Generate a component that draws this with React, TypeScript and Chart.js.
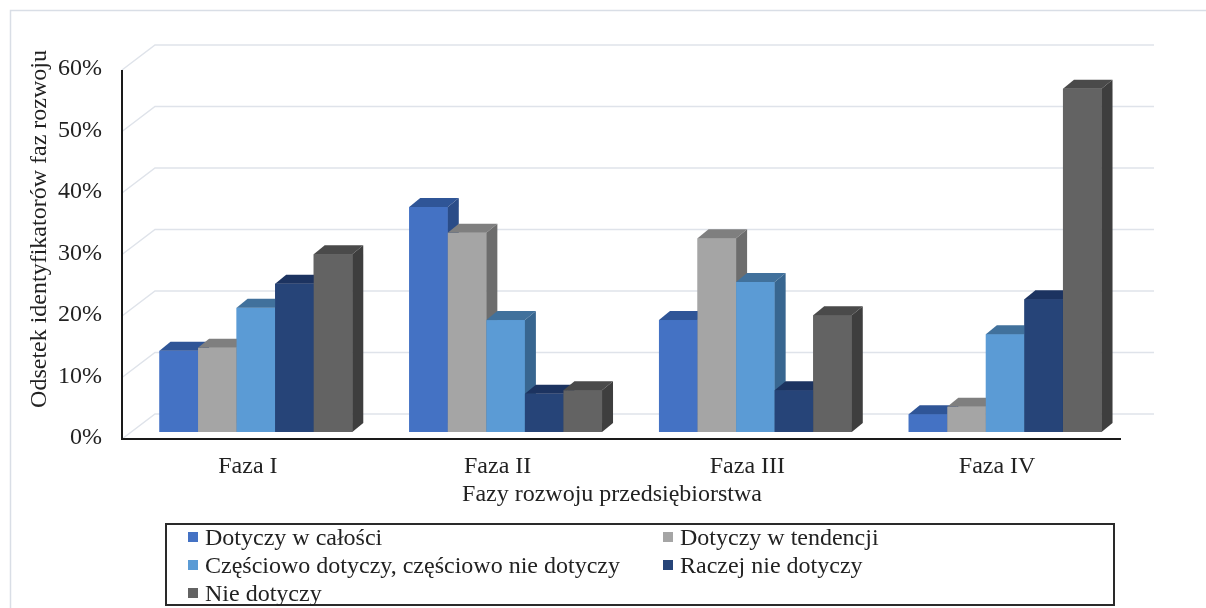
import React, { useEffect, useRef } from "react";
import { Chart, registerables } from "chart.js";

Chart.register(...registerables);

// ---- data ----
const categories = ["Faza I", "Faza II", "Faza III", "Faza IV"];
const seriesNames = [
  "Dotyczy w całości",
  "Dotyczy w tendencji",
  "Częściowo dotyczy, częściowo nie dotyczy",
  "Raczej nie dotyczy",
  "Nie dotyczy",
];
const dotyczyWCalosci = [0.132, 0.366, 0.182, 0.029];
const dotyczyWTendencji = [0.137, 0.324, 0.315, 0.041];
const czesciowoDotyczy = [0.202, 0.182, 0.244, 0.159];
const raczejNieDotyczy = [0.241, 0.062, 0.068, 0.216];
const nieDotyczy = [0.289, 0.068, 0.19, 0.558];
const yTickValues = [0, 0.1, 0.2, 0.3, 0.4, 0.5, 0.6];
const xTitle = "Fazy rozwoju przedsiębiorstwa";
const yTitle = "Odsetek identyfikatorów faz rozwoju";

// ---- styles ----
const frontColors = ["#4472C4", "#A5A5A5", "#5B9BD5", "#264478", "#636363"];
const topColors = ["#2F5597", "#7F7F7F", "#41719C", "#1C3360", "#4A4A4A"];
const sideColors = ["#2A4C88", "#6D6D6D", "#386690", "#18305A", "#3E3E3E"];
const FONT = '"Liberation Serif", "Times New Roman", serif';
const FONT_SIZE = 24;
const TEXT = "#222222";
const FRONT = { x: -9, y: 7 };
const BACK = { x: 24, y: -18 };
const DEPTH = { x: 11, y: -9 };

const seriesValues = [dotyczyWCalosci, dotyczyWTendencji, czesciowoDotyczy, raczejNieDotyczy, nieDotyczy];

const threeD = {
  id: "threeD",
  beforeDatasetsDraw(chart: any) {
    const { ctx, chartArea } = chart;
    const y = chart.scales.y;
    ctx.save();
    ctx.strokeStyle = "#dfe3ea";
    ctx.lineWidth = 1.5;
    for (const v of yTickValues) {
      const py = y.getPixelForValue(v);
      ctx.beginPath();
      ctx.moveTo(chartArea.left + FRONT.x, py + FRONT.y);
      ctx.lineTo(chartArea.left + BACK.x, py + BACK.y);
      ctx.lineTo(chartArea.right + BACK.x, py + BACK.y);
      ctx.stroke();
    }
    ctx.restore();
  },
  afterDatasetsDraw(chart: any) {
    const { ctx, chartArea } = chart;
    const y = chart.scales.y;
    const items: any[] = [];
    chart.data.datasets.forEach((_ds: any, di: number) => {
      const meta = chart.getDatasetMeta(di);
      meta.data.forEach((el: any) => {
        const p = el.getProps(["x", "y", "base", "width"], true);
        items.push({ di, ...p });
      });
    });
    items.sort((a, b) => a.x - b.x);
    ctx.save();
    for (const it of items) {
      const l = it.x - it.width / 2;
      const r = it.x + it.width / 2;
      const t = it.y;
      const b = it.base;
      ctx.fillStyle = frontColors[it.di];
      ctx.fillRect(l, t, r - l, b - t);
      ctx.fillStyle = topColors[it.di];
      ctx.beginPath();
      ctx.moveTo(l, t);
      ctx.lineTo(r, t);
      ctx.lineTo(r + DEPTH.x, t + DEPTH.y);
      ctx.lineTo(l + DEPTH.x, t + DEPTH.y);
      ctx.closePath();
      ctx.fill();
      ctx.fillStyle = sideColors[it.di];
      ctx.beginPath();
      ctx.moveTo(r, t);
      ctx.lineTo(r + DEPTH.x, t + DEPTH.y);
      ctx.lineTo(r + DEPTH.x, b + DEPTH.y);
      ctx.lineTo(r, b);
      ctx.closePath();
      ctx.fill();
    }
    // front axes
    const y0 = y.getPixelForValue(0) + FRONT.y;
    const yTop = y.getPixelForValue(0.6) + FRONT.y;
    const xl = chartArea.left + FRONT.x;
    const xr = chartArea.right + FRONT.x;
    ctx.strokeStyle = "#1a1a1a";
    ctx.lineWidth = 2;
    ctx.beginPath();
    ctx.moveTo(xl, yTop);
    ctx.lineTo(xl, y0);
    ctx.lineTo(xr, y0);
    ctx.stroke();
    ctx.restore();
  },
  afterDraw(chart: any) {
    const { ctx } = chart;
    ctx.save();
    ctx.strokeStyle = "#d9dee6";
    ctx.lineWidth = 1.5;
    ctx.beginPath();
    ctx.moveTo(10.5, 620);
    ctx.lineTo(10.5, 10.5);
    ctx.lineTo(1220, 10.5);
    ctx.stroke();
    ctx.fillStyle = TEXT;
    ctx.font = `${FONT_SIZE}px ${FONT}`;
    ctx.textAlign = "center";
    ctx.textBaseline = "middle";
    ctx.fillText(xTitle, 612, 495);
    ctx.translate(40, 229);
    ctx.rotate(-Math.PI / 2);
    ctx.fillText(yTitle, 0, 0);
    ctx.restore();
  },
};

export default function App() {
  const ref = useRef<HTMLCanvasElement | null>(null);
  useEffect(() => {
    if (!ref.current) return;
    const chart = new Chart(ref.current, {
      type: "bar",
      data: {
        labels: categories,
        datasets: seriesNames.map((name, i) => ({
          label: name,
          data: seriesValues[i],
          backgroundColor: frontColors[i],
          borderWidth: 0,
          categoryPercentage: 0.772,
          barPercentage: 1.0,
        })),
      },
      options: {
        animation: false,
        responsive: false,
        devicePixelRatio: 1,
        layout: { padding: { left: 0, top: 63, right: 76, bottom: 0 } },
        plugins: { legend: { display: false }, tooltip: { enabled: false }, title: { display: false } },
        scales: {
          x: {
            grid: { display: false, drawTicks: false },
            border: { display: false },
            ticks: {
              font: { family: FONT, size: FONT_SIZE },
              color: TEXT,
              padding: 20,
              labelOffset: -8,
              autoSkip: false,
              maxRotation: 0,
            },
            afterFit: (s: any) => {
              s.height = 176;
            },
          },
          y: {
            min: 0,
            max: 0.6,
            grid: { display: false, drawTicks: false },
            border: { display: false },
            ticks: {
              stepSize: 0.1,
              font: { family: FONT, size: FONT_SIZE },
              color: TEXT,
              padding: 29,
              labelOffset: 6,
              callback: (v: any) => Math.round(Number(v) * 100) + "%",
            },
            afterFit: (s: any) => {
              s.width = 131;
            },
          },
        },
      },
      plugins: [threeD],
    });
    return () => chart.destroy();
  }, []);

  const legendPos = [
    { col: 0, row: 0 },
    { col: 1, row: 0 },
    { col: 0, row: 1 },
    { col: 1, row: 1 },
    { col: 0, row: 2 },
  ];

  return (
    <div style={{ position: "absolute", left: 0, top: 0, width: 1206, height: 608, background: "#fff", overflow: "hidden" }}>
      <canvas ref={ref} width={1206} height={608} style={{ position: "absolute", left: 0, top: 0, width: 1206, height: 608 }} />
      <div
        style={{
          position: "absolute",
          left: 165,
          top: 523,
          width: 950,
          height: 83,
          boxSizing: "border-box",
          border: "2px solid #2a2a2a",
        }}
      >
        {seriesNames.map((name, i) => (
          <div
            key={name}
            style={{
              position: "absolute",
              left: legendPos[i].col === 0 ? 21 : 496,
              top: legendPos[i].row * 28 - 2,
              height: 28,
              display: "flex",
              alignItems: "center",
              whiteSpace: "nowrap",
              fontFamily: FONT,
              fontSize: FONT_SIZE,
              color: TEXT,
            }}
          >
            <span style={{ display: "inline-block", width: 10, height: 10, background: frontColors[i], marginRight: 7 }} />
            <span>{name}</span>
          </div>
        ))}
      </div>
    </div>
  );
}
